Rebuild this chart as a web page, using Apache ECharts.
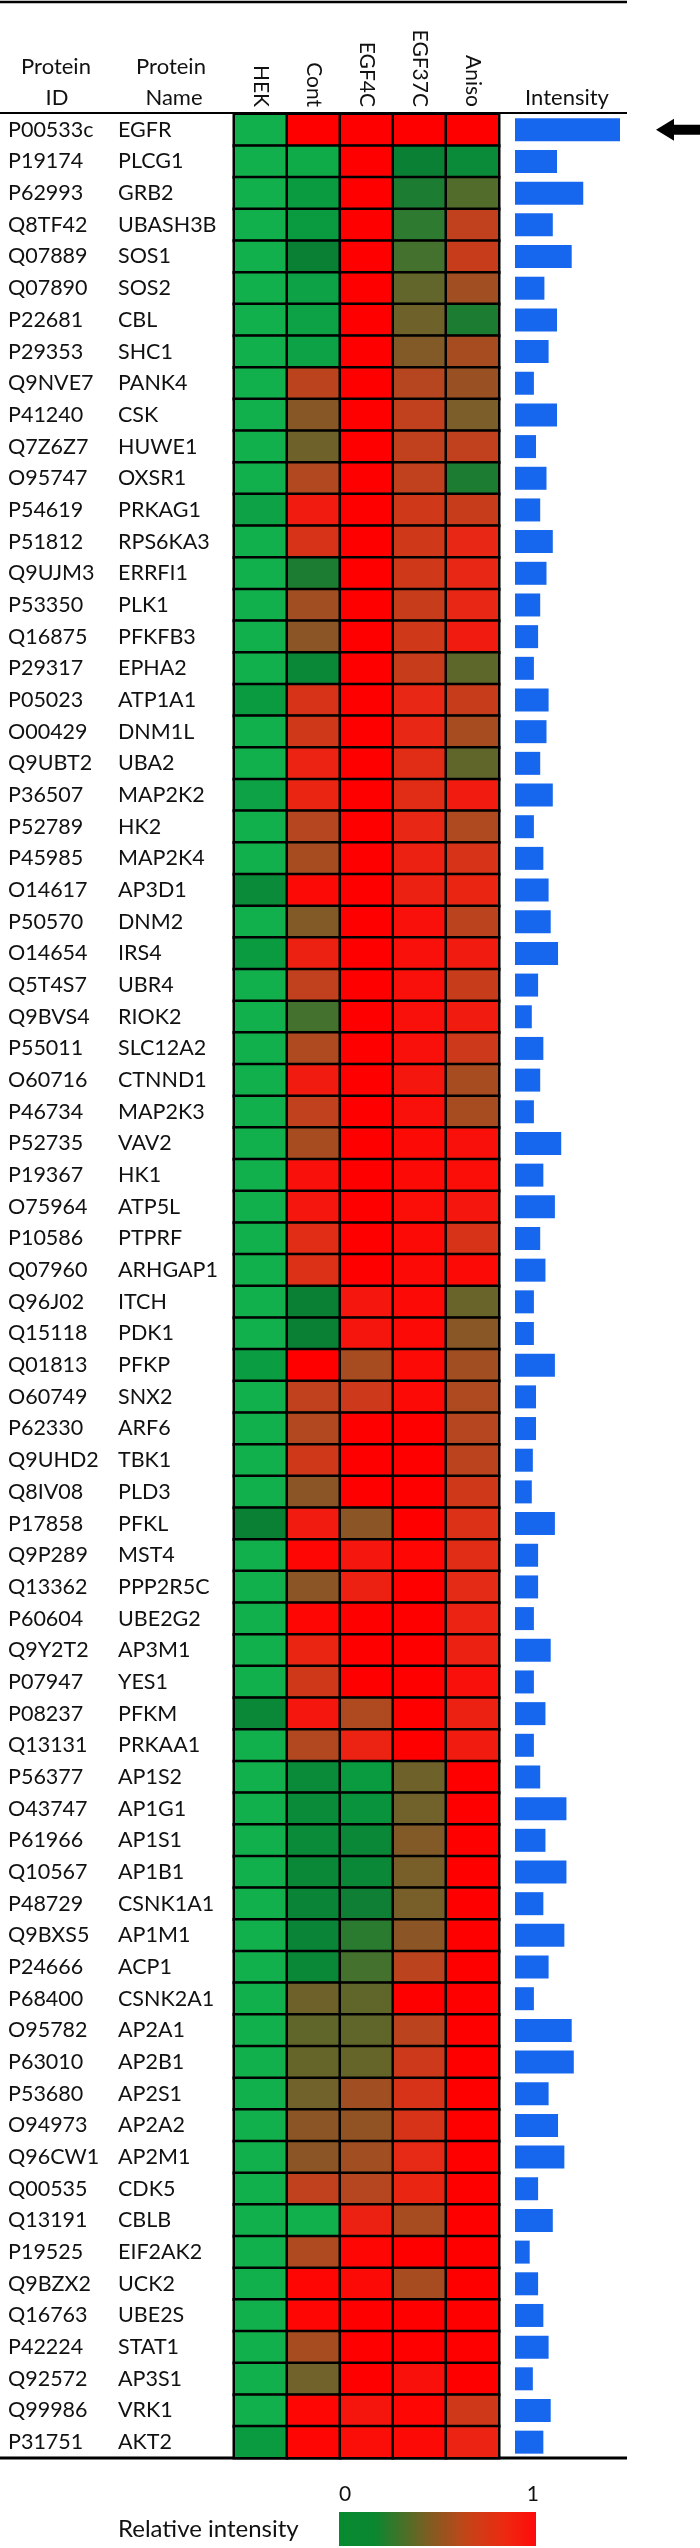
<!DOCTYPE html>
<html><head><meta charset="utf-8">
<script src="https://cdn.jsdelivr.net/npm/echarts@6/dist/echarts.min.js"></script>
<style>html,body{margin:0;padding:0;background:#fff}#c{width:700px;height:2548px}</style>
</head><body><div id="c"></div>
<script>
const proteinIds = ['P00533c','P19174','P62993','Q8TF42','Q07889','Q07890','P22681','P29353','Q9NVE7','P41240','Q7Z6Z7','O95747','P54619','P51812','Q9UJM3','P53350','Q16875','P29317','P05023','O00429','Q9UBT2','P36507','P52789','P45985','O14617','P50570','O14654','Q5T4S7','Q9BVS4','P55011','O60716','P46734','P52735','P19367','O75964','P10586','Q07960','Q96J02','Q15118','Q01813','O60749','P62330','Q9UHD2','Q8IV08','P17858','Q9P289','Q13362','P60604','Q9Y2T2','P07947','P08237','Q13131','P56377','O43747','P61966','Q10567','P48729','Q9BXS5','P24666','P68400','O95782','P63010','P53680','O94973','Q96CW1','Q00535','Q13191','P19525','Q9BZX2','Q16763','P42224','Q92572','Q99986','P31751'];
const proteinNames = ['EGFR','PLCG1','GRB2','UBASH3B','SOS1','SOS2','CBL','SHC1','PANK4','CSK','HUWE1','OXSR1','PRKAG1','RPS6KA3','ERRFI1','PLK1','PFKFB3','EPHA2','ATP1A1','DNM1L','UBA2','MAP2K2','HK2','MAP2K4','AP3D1','DNM2','IRS4','UBR4','RIOK2','SLC12A2','CTNND1','MAP2K3','VAV2','HK1','ATP5L','PTPRF','ARHGAP1','ITCH','PDK1','PFKP','SNX2','ARF6','TBK1','PLD3','PFKL','MST4','PPP2R5C','UBE2G2','AP3M1','YES1','PFKM','PRKAA1','AP1S2','AP1G1','AP1S1','AP1B1','CSNK1A1','AP1M1','ACP1','CSNK2A1','AP2A1','AP2B1','AP2S1','AP2A2','AP2M1','CDK5','CBLB','EIF2AK2','UCK2','UBE2S','STAT1','AP3S1','VRK1','AKT2'];
const conditions = ['HEK','Cont','EGF4C','EGF37C','Aniso'];

const hek = [0,0,0,0,0,0,0,0,0,0, 0,0,0.05,0,0,0,0,0,0.08,0, 0,0.05,0,0,0.12,0,0.08,0,0,0, 0,0,0,0,0,0,0,0,0,0.07, 0,0,0,0,0.15,0,0,0,0,0, 0.13,0,0,0,0,0,0,0,0,0, 0,0,0,0,0,0,0,0,0,0, 0,0,0,0.08];
const cont = [1,0.02,0.08,0.08,0.15,0.05,0.05,0.05,0.68,0.52, 0.42,0.65,0.9,0.78,0.2,0.6,0.54,0.13,0.78,0.75, 0.87,0.86,0.66,0.62,0.97,0.5,0.88,0.7,0.3,0.64, 0.9,0.7,0.62,0.95,0.92,0.82,0.8,0.15,0.15,1, 0.7,0.65,0.75,0.54,0.9,0.98,0.54,0.98,0.86,0.75, 0.92,0.65,0.12,0.12,0.12,0.13,0.14,0.14,0.13,0.42, 0.37,0.39,0.43,0.54,0.54,0.7,0,0.64,0.98,0.98, 0.62,0.43,0.98,0.98];
const egf4c = [1,1,1,1,1,1,1,1,1,1, 1,1,1,1,1,1,1,1,1,1, 1,1,1,1,1,1,1,1,1,1, 1,1,1,1,1,1,1,0.92,0.93,0.62, 0.74,1,1,1,0.54,0.92,0.88,1,1,1, 0.64,0.87,0.08,0.1,0.13,0.13,0.16,0.24,0.3,0.37, 0.37,0.39,0.6,0.56,0.6,0.66,0.88,0.98,0.97,1, 1,1,0.93,0.96];
const egf37c = [1,0.15,0.2,0.25,0.3,0.38,0.42,0.5,0.66,0.7, 0.7,0.7,0.75,0.75,0.75,0.72,0.75,0.72,0.85,0.85, 0.82,0.82,0.85,0.88,0.88,0.95,0.95,0.95,0.95,0.95, 0.92,0.95,0.97,0.97,0.96,0.97,0.97,0.97,0.97,0.97, 0.97,1,1,1,1,0.98,1,1,1,1, 1,1,0.42,0.43,0.5,0.46,0.46,0.54,0.68,1, 0.68,0.74,0.78,0.78,0.84,0.86,0.62,1,0.62,1, 1,0.95,0.98,0.97];
const aniso = [1,0.12,0.33,0.7,0.72,0.6,0.2,0.62,0.58,0.47, 0.7,0.2,0.72,0.85,0.85,0.85,0.9,0.36,0.72,0.62, 0.37,0.9,0.64,0.78,0.86,0.68,0.9,0.72,0.9,0.74, 0.62,0.62,0.95,0.96,0.92,0.78,0.97,0.4,0.53,0.6, 0.64,0.66,0.68,0.75,0.8,0.82,0.83,0.87,0.88,0.95, 0.88,0.9,1,1,1,1,1,1,1,1, 1,1,1,1,1,1,1,1,1,1, 1,1,0.75,0.87];
const intensity = [1.00,0.40,0.65,0.36,0.54,0.28,0.40,0.32,0.18,0.40, 0.20,0.30,0.24,0.36,0.30,0.24,0.22,0.18,0.32,0.30, 0.24,0.36,0.18,0.27,0.32,0.34,0.41,0.22,0.16,0.27, 0.24,0.18,0.44,0.27,0.38,0.24,0.29,0.18,0.18,0.38, 0.20,0.20,0.17,0.16,0.38,0.22,0.22,0.18,0.34,0.18, 0.29,0.18,0.24,0.49,0.29,0.49,0.27,0.47,0.32,0.18, 0.54,0.56,0.32,0.41,0.47,0.22,0.36,0.14,0.22,0.27, 0.32,0.17,0.34,0.27];
const legendTicks = ['0','1'];
const legendTitle = 'Relative intensity';

// colour scale (styling)
const anchors = [[0,'#12B04C'],[0.08,'#0A9A40'],[0.15,'#0A8034'],[0.25,'#2E7A30'],[0.35,'#5A682A'],[0.45,'#76602A'],[0.55,'#8E5424'],[0.65,'#B24820'],[0.75,'#D0381A'],[0.85,'#E82814'],[0.95,'#FA100A'],[1,'#FF0000']];
function hex2rgb(h){return [parseInt(h.slice(1,3),16),parseInt(h.slice(3,5),16),parseInt(h.slice(5,7),16)];}
function colorAt(t){
  for(let k=0;k<anchors.length-1;k++){
    const a=anchors[k],b=anchors[k+1];
    if(t<=b[0]){const f=(t-a[0])/(b[0]-a[0]);const ca=hex2rgb(a[1]),cb=hex2rgb(b[1]);
      return 'rgb('+ca.map((v,i)=>Math.round(v+(cb[i]-v)*f)).join(',')+')';}
  }
  return anchors[anchors.length-1][1];
}
const scaleColors=[];for(let s=0;s<=100;s++)scaleColors.push(colorAt(s/100));

const cols=[hek,cont,egf4c,egf37c,aniso];
const heatData=[];
cols.forEach((arr,j)=>arr.forEach((v,i)=>heatData.push([j,i,v])));

const FONT='Lato';
const TOP=114, H=2344;
const chart=echarts.init(document.getElementById('c'),null,{renderer:'canvas'});
chart.setOption({
  animation:false,
  backgroundColor:'#fff',
  grid:[
    {left:234,top:TOP,width:265,height:H},
    {left:515,top:TOP,width:105,height:H}
  ],
  xAxis:[
    {type:'category',data:conditions,position:'top',gridIndex:0,
     axisLine:{show:false},axisTick:{show:false},splitLine:{show:false},
     axisLabel:{rotate:90,margin:7,interval:0,fontSize:21,fontFamily:FONT,color:'#111'}},
    {type:'value',gridIndex:1,min:0,max:1,show:false}
  ],
  yAxis:[
    {type:'category',data:proteinNames,inverse:true,gridIndex:0,
     axisLine:{show:false},axisTick:{show:false},splitLine:{show:false},
     axisLabel:{interval:0,align:'left',margin:226,
       formatter:(v,i)=>'{id|'+proteinIds[i]+'}{nm|'+v+'}',
       rich:{id:{width:110,fontSize:21.5,fontFamily:FONT,color:'#111'},nm:{fontSize:21.5,fontFamily:FONT,color:'#111'}}}},
    {type:'category',data:proteinNames,inverse:true,gridIndex:1,show:false}
  ],
  visualMap:{type:'continuous',min:0,max:1,show:false,seriesIndex:0,inRange:{color:scaleColors}},
  series:[
    {type:'heatmap',xAxisIndex:0,yAxisIndex:0,data:heatData,
     itemStyle:{borderColor:'#000',borderWidth:2.5},emphasis:{disabled:true}},
    {type:'bar',xAxisIndex:1,yAxisIndex:1,data:intensity,barWidth:23,
     itemStyle:{color:'#1767EE'},
     markPoint:{silent:true,
       data:[{coord:[intensity[0],0],symbol:'path://M0,11 L18,0 L18,6 L44,6 L44,16 L18,16 L18,22 Z',
              symbolSize:[44,22],symbolOffset:[58,0],itemStyle:{color:'#000'},label:{show:false}}]}}
  ],
  graphic:[
    {type:'line',shape:{x1:0,y1:2,x2:627,y2:2},style:{stroke:'#000',lineWidth:2.5}},
    {type:'line',shape:{x1:0,y1:113,x2:627,y2:113},style:{stroke:'#000',lineWidth:2}},
    {type:'line',shape:{x1:0,y1:2458,x2:627,y2:2458},style:{stroke:'#000',lineWidth:3}},
    {type:'text',x:56,y:67,style:{text:'Protein',font:'22px '+FONT,fill:'#111',align:'center',verticalAlign:'middle'}},
    {type:'text',x:57,y:98,style:{text:'ID',font:'22px '+FONT,fill:'#111',align:'center',verticalAlign:'middle'}},
    {type:'text',x:171,y:67,style:{text:'Protein',font:'22px '+FONT,fill:'#111',align:'center',verticalAlign:'middle'}},
    {type:'text',x:174,y:98,style:{text:'Name',font:'22px '+FONT,fill:'#111',align:'center',verticalAlign:'middle'}},
    {type:'text',x:567,y:98,style:{text:'Intensity',font:'22px '+FONT,fill:'#111',align:'center',verticalAlign:'middle'}},
    {type:'rect',shape:{x:339,y:2512,width:197,height:34},
     style:{fill:new echarts.graphic.LinearGradient(0,0,1,0,[
       {offset:0,color:'#078A30'},{offset:0.18,color:'#0A8730'},{offset:0.45,color:'#7C5E22'},
       {offset:0.65,color:'#C44418'},{offset:0.85,color:'#EE2810'},{offset:1,color:'#FF0A0A'}])}},
    {type:'text',x:339,y:2494,style:{text:legendTicks[0],font:'21px '+FONT,fill:'#111',align:'left',verticalAlign:'middle'}},
    {type:'text',x:539,y:2494,style:{text:legendTicks[1],font:'21px '+FONT,fill:'#111',align:'right',verticalAlign:'middle'}},
    {type:'text',x:118,y:2529,style:{text:legendTitle,font:'24px '+FONT,fill:'#111',align:'left',verticalAlign:'middle'}}
  ]
});
</script></body></html>
